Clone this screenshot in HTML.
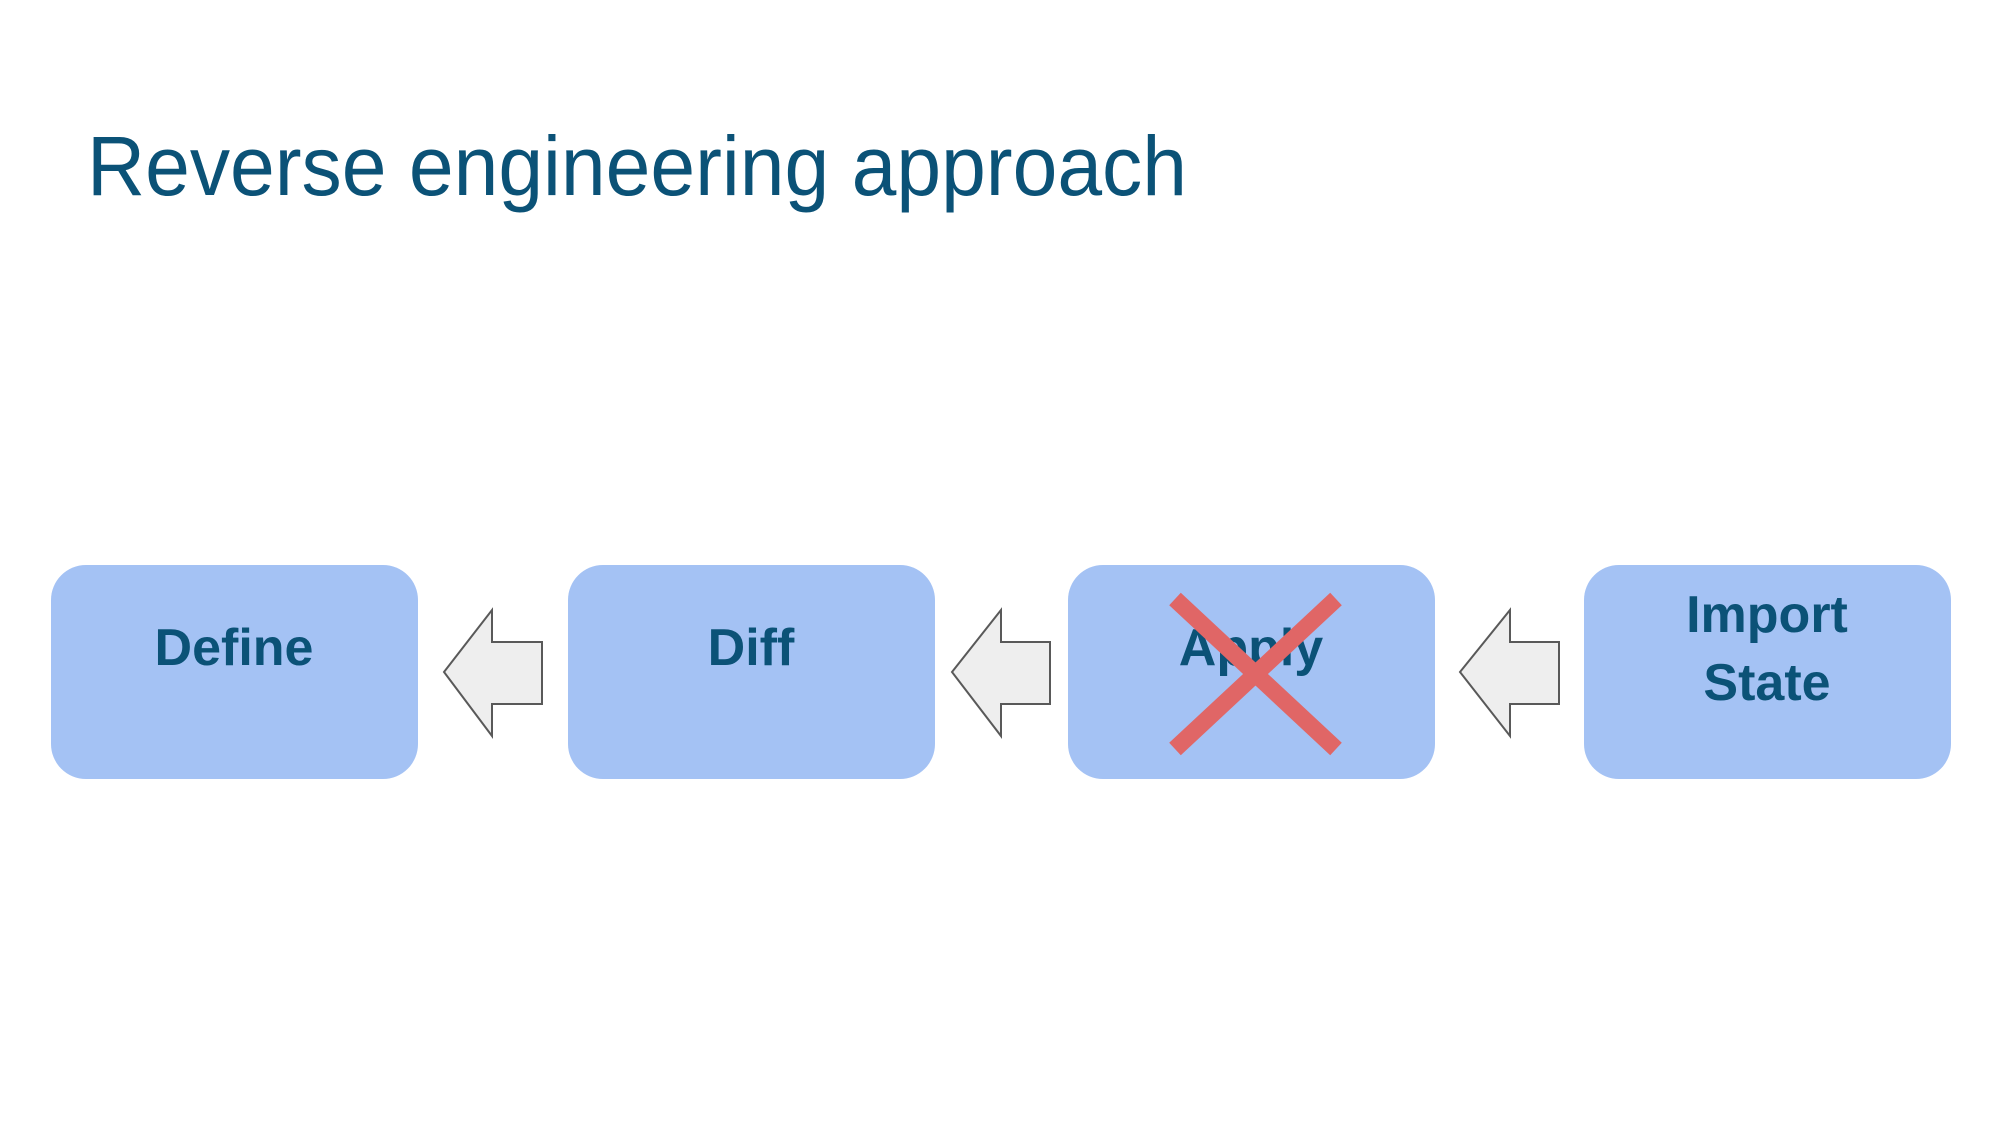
<!DOCTYPE html>
<html><head><meta charset="utf-8"><style>body{margin:0;background:#fff}svg{display:block}</style></head>
<body>
<svg width="2000" height="1125" viewBox="0 0 2000 1125" xmlns="http://www.w3.org/2000/svg">
<text x="87" y="195" font-family="Liberation Sans, sans-serif" font-size="84" fill="#0b5277" textLength="1100" lengthAdjust="spacingAndGlyphs">Reverse engineering approach</text>
<g fill="#a4c2f4">
<rect x="51" y="565" width="367" height="214" rx="35"/>
<rect x="568" y="565" width="367" height="214" rx="35"/>
<rect x="1068" y="565" width="367" height="214" rx="35"/>
<rect x="1584" y="565" width="367" height="214" rx="35"/>
</g>
<g fill="#eeeeee" stroke="#595959" stroke-width="2">
<polygon points="444,672 492,610 492,642 542,642 542,704 492,704 492,736"/>
<polygon points="952,672 1001,610 1001,642 1050,642 1050,704 1001,704 1001,736"/>
<polygon points="1460,672 1510,610 1510,642 1559,642 1559,704 1510,704 1510,736"/>
</g>
<g font-family="Liberation Sans, sans-serif" font-weight="bold" font-size="52" fill="#0b5277" text-anchor="middle">
<text x="234" y="665">Define</text>
<text x="751" y="665">Diff</text>
<text x="1251" y="665">Apply</text>
<text x="1767" y="632">Import</text>
<text x="1767" y="700">State</text>
</g>
<g stroke="#e06666" stroke-width="17">
<line x1="1175" y1="599" x2="1336" y2="749"/>
<line x1="1336" y1="599" x2="1175" y2="749"/>
</g>
</svg>
</body></html>
